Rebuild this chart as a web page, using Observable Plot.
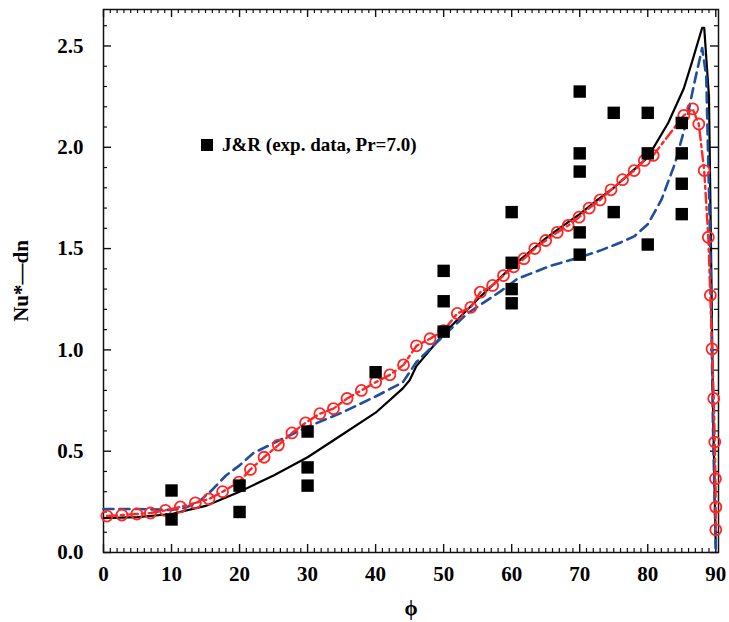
<!DOCTYPE html>
<html><head><meta charset="utf-8">
<script src="https://cdn.jsdelivr.net/npm/d3@7"></script>
<script src="https://cdn.jsdelivr.net/npm/@observablehq/plot@0.6"></script>
<style>
body{margin:0;background:#fff;overflow:hidden;}
#wrap{position:relative;width:729px;height:622px;}
#legend{position:absolute;left:201px;top:134px;font:bold 19px "Liberation Serif",serif;display:flex;align-items:center;white-space:nowrap;color:#000;}
#legend .sq{display:inline-block;width:12px;height:12px;background:#000;margin-right:9px;}
</style></head><body><div id="wrap"></div>
<script>
// Experimental data (J&R, Pr=7.0)
const expPhi = [10,10,20,20,30,30,30,40,50,50,50,60,60,60,60,70,70,70,70,70,75,75,80,80,80,85,85,85,85];
const expNu  = [0.306,0.163,0.33,0.20,0.597,0.42,0.33,0.89,1.39,1.24,1.09,1.68,1.43,1.30,1.23,2.275,1.97,1.88,1.58,1.47,2.17,1.68,2.17,1.97,1.52,2.12,1.97,1.82,1.67];

// Black solid curve
const blackPhi = [0,5,10,15,20,25,30,35,40,44,45,46,50,55,60,65,67,70,72.6,75,80,83,85.3,86.5,88,88.3,89,89.3,89.6,90];
const blackNu  = [0.17,0.175,0.19,0.23,0.30,0.38,0.47,0.58,0.69,0.81,0.85,0.92,1.08,1.25,1.41,1.55,1.60,1.67,1.74,1.80,1.95,2.12,2.29,2.42,2.59,2.59,2.25,1.5,0.7,0.02];

// Blue dashed curve
const bluePhi = [0,5,10,12,14,16,18,20,22,25,30,35,40,44,46,50,53.5,58.4,60.8,65.7,70,73,76,78,80,82,84,85.6,86.8,88,88.6,89.2,89.6,90];
const blueNu  = [0.215,0.215,0.21,0.22,0.25,0.31,0.38,0.43,0.49,0.54,0.62,0.69,0.77,0.84,0.94,1.07,1.18,1.29,1.35,1.415,1.457,1.49,1.53,1.56,1.62,1.74,1.92,2.115,2.31,2.49,2.35,1.5,0.6,0.02];

// Red dash-dot curve with circles
const redPhi = [0.5,2.7,4.9,6.9,9.1,11.3,13.5,15.5,17.5,19.9,21.6,23.6,25.7,27.7,29.7,31.8,33.8,35.8,37.9,40,42.1,44.1,46,48,50,52,54,55.4,57.2,58.8,60.3,61.8,63.4,65,66.7,68.3,69.9,71.4,73,74.6,76.3,78,79.5,80.8,85.3,86.6,87.5,88.3,88.9,89.2,89.45,89.7,89.85,89.95,90,90];
const redNu  = [0.18,0.185,0.19,0.195,0.208,0.225,0.245,0.264,0.30,0.347,0.41,0.47,0.53,0.59,0.64,0.685,0.71,0.76,0.80,0.84,0.877,0.926,1.02,1.055,1.095,1.18,1.21,1.285,1.318,1.367,1.41,1.45,1.50,1.54,1.58,1.614,1.655,1.70,1.74,1.79,1.84,1.885,1.935,1.96,2.157,2.19,2.115,1.885,1.556,1.27,1.005,0.76,0.545,0.364,0.224,0.112,0.026];

const xMajor = [0,10,20,30,40,50,60,70,80,90];
const yMajor = [0,0.5,1.0,1.5,2.0,2.5];
const xMinor = d3.range(0, 91, 1).filter(d => d % 10 !== 0);
const yMinor = d3.range(0, 27, 1).filter(d => d % 5 !== 0).map(d => d / 10);

const exp = expPhi.map((x, i) => ({x, y: expNu[i]}));
const black = blackPhi.map((x, i) => ({x, y: blackNu[i]}));
const blue = bluePhi.map((x, i) => ({x, y: blueNu[i]}));
const red = redPhi.map((x, i) => ({x, y: redNu[i]}));

const W = 729, H = 622, ML = 103, MR = 11, MT = 9, MB = 70;
const X0 = 0, X1 = 90.4, Y0 = 0, Y1 = 2.68;
// tick lengths given in pixels, converted into data units along each axis
const pxX = (X1 - X0) / (W - ML - MR);
const pxY = (Y1 - Y0) / (H - MT - MB);
const tickColor = "#111";

function xTicks(vals, len, sw) {
  return [
    Plot.ruleX(vals, {x: d => d, y1: Y0, y2: Y0 + len * pxY, stroke: tickColor, strokeWidth: sw}),
    Plot.ruleX(vals, {x: d => d, y1: Y1, y2: Y1 - len * pxY, stroke: tickColor, strokeWidth: sw})
  ];
}
function yTicks(vals, len, sw) {
  return [
    Plot.ruleY(vals, {y: d => d, x1: X0, x2: X0 + len * pxX, stroke: tickColor, strokeWidth: sw}),
    Plot.ruleY(vals, {y: d => d, x1: X1, x2: X1 - len * pxX, stroke: tickColor, strokeWidth: sw})
  ];
}

const chart = Plot.plot({
  width: W,
  height: H,
  marginLeft: ML,
  marginRight: MR,
  marginTop: MT,
  marginBottom: MB,
  x: {domain: [X0, X1]},
  y: {domain: [Y0, Y1]},
  style: {fontFamily: "'Liberation Serif', serif", fontWeight: "bold", fontSize: "21px", background: "#fff", color: "#000"},
  marks: [
    Plot.frame({stroke: "#111", strokeWidth: 1.5}),
    ...xTicks(xMinor, 4, 1.2),
    ...xTicks(xMajor, 8, 1.4),
    ...yTicks(yMinor, 4, 1.2),
    ...yTicks(yMajor, 8, 1.4),
    Plot.axisX(xMajor, {anchor: "bottom", tickSize: 0, tickPadding: 14, tickFormat: d => String(d), fontSize: 21, fontWeight: "bold",
      label: "ϕ", labelAnchor: "center", labelArrow: "none", labelOffset: 62}),
    Plot.axisY(yMajor, {anchor: "left", tickSize: 0, tickPadding: 20, tickFormat: d3.format(".1f"), fontSize: 21, fontWeight: "bold",
      label: "Nu*—dn", labelAnchor: "center", labelArrow: "none", labelOffset: 90}),
    Plot.line(black, {x: "x", y: "y", stroke: "#000", strokeWidth: 2.2}),
    Plot.line(blue, {x: "x", y: "y", stroke: "#1f4e9c", strokeWidth: 2.6, strokeDasharray: "10,6"}),
    Plot.line(red, {x: "x", y: "y", stroke: "#ff2626", strokeWidth: 2.4, strokeDasharray: "10,4,3,4"}),
    Plot.dot(red, {x: "x", y: "y", r: 5.5, stroke: "#ff2626", strokeWidth: 1.8, fill: "none"}),
    Plot.dot(exp, {x: "x", y: "y", symbol: "square", r: 7, fill: "#000", stroke: "none"})
  ]
});
const wrap = document.getElementById("wrap");
wrap.appendChild(chart);
const leg = document.createElement("div");
leg.id = "legend";
leg.innerHTML = '<span class="sq"></span><span>J&amp;R (exp. data, Pr=7.0)</span>';
wrap.appendChild(leg);
</script>
</body></html>
